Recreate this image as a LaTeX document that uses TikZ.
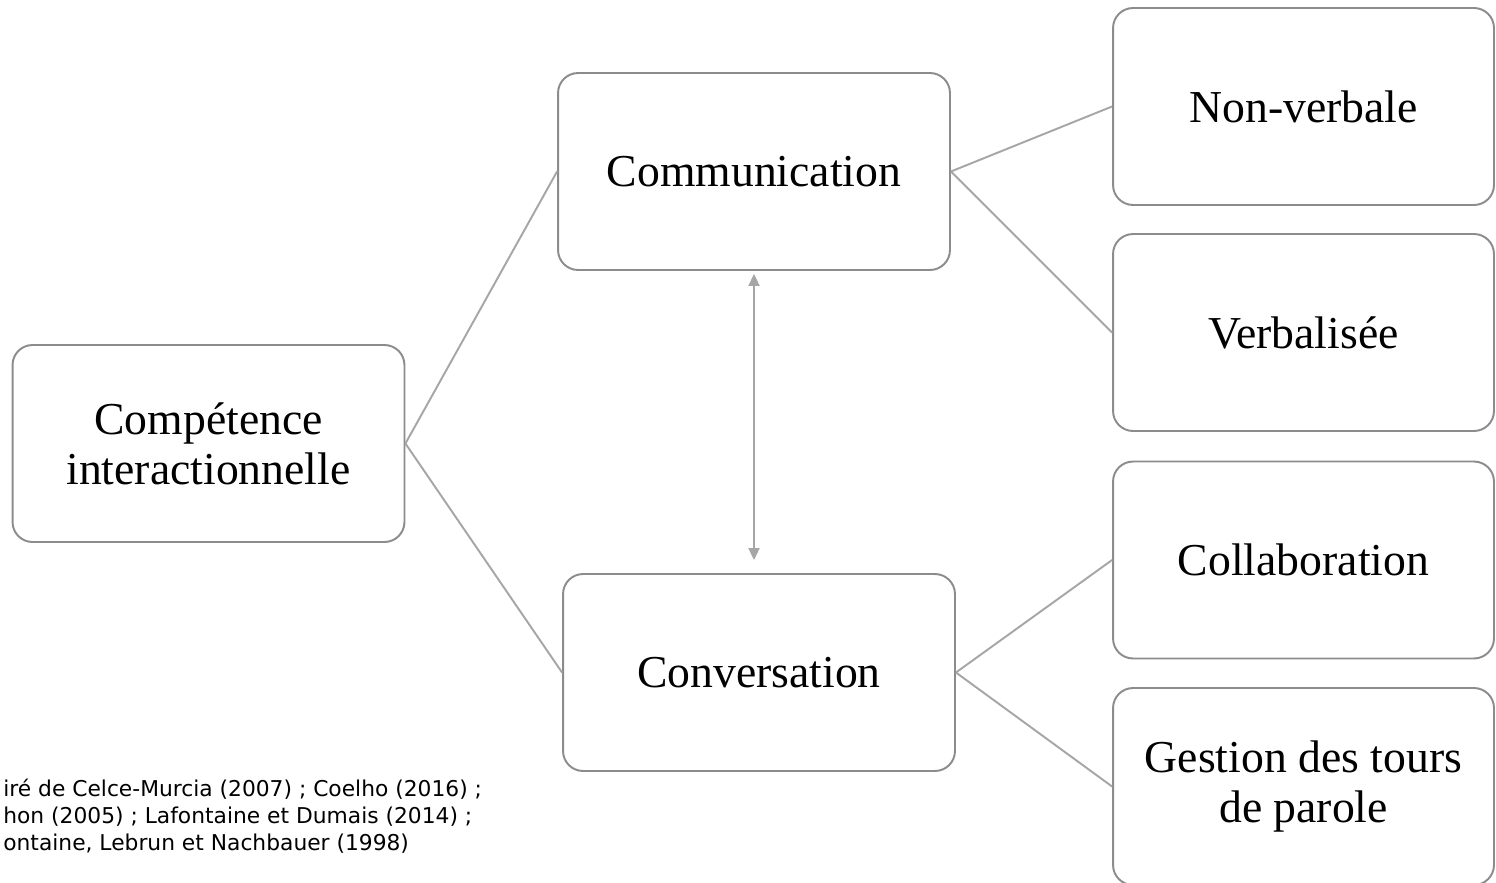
\documentclass[tikz,border=0pt]{standalone}
\usepackage{fontspec}
\setmainfont{Liberation Serif}
\newfontfamily\notefont{DejaVu Sans}
\usetikzlibrary{arrows.meta}
\definecolor{boxgray}{HTML}{8C8C8C}
\definecolor{linegray}{HTML}{A6A6A6}
\begin{document}
\begin{tikzpicture}[x=0.02cm, y=-0.02cm,
    box/.style={draw=boxgray, line width=1.1pt, rounded corners=0.4cm, fill=white,
      align=center, font=\fontsize{26}{28.5}\selectfont,
      minimum width=7.84cm, minimum height=3.94cm, inner sep=0pt},
    leaf/.style={box, minimum width=7.62cm},
    link/.style={draw=linegray, line width=1.1pt}]
    \useasboundingbox (0,0) rectangle (1496,882);

    % Define boxes
    \node[box] (comp) at (208.5,443.5) {Compétence\\interactionnelle};
    \node[box] (comm) at (754,171.5) {Communication};
    \node[box] (conv) at (759,672.5) {Conversation};
    \node[leaf] (nonverb) at (1303.5,106.5) {Non-verbale};
    \node[leaf] (verb) at (1303.5,332.5) {Verbalisée};
    \node[leaf] (collab) at (1303.5,560) {Collaboration};
    \node[leaf] (gestion) at (1303.5,786.5) {Gestion des tours\\de parole};

    % Links
    \draw[link] (comp.east) -- (comm.west);
    \draw[link] (comp.east) -- (conv.west);
    \draw[link] (comm.east) -- (nonverb.west);
    \draw[link] (comm.east) -- (verb.west);
    \draw[link] (conv.east) -- (collab.west);
    \draw[link] (conv.east) -- (gestion.west);

    % Two-way arrow
    \draw[link, {Triangle[width=0.22cm,length=0.24cm]}-{Triangle[width=0.22cm,length=0.24cm]},
      shorten <=0.06cm, shorten >=0.26cm] (comm.south) -- (conv.north -| comm.south);

    % Source
    \node[anchor=north west, align=left, inner sep=0pt, font=\notefont\fontsize{12.4}{15.4}\selectfont]
      (source) at (3,779) {iré de Celce-Murcia (2007) ; Coelho (2016) ;\\hon (2005) ; Lafontaine et Dumais (2014) ;\\ontaine, Lebrun et Nachbauer (1998)};
\end{tikzpicture}
\end{document}
